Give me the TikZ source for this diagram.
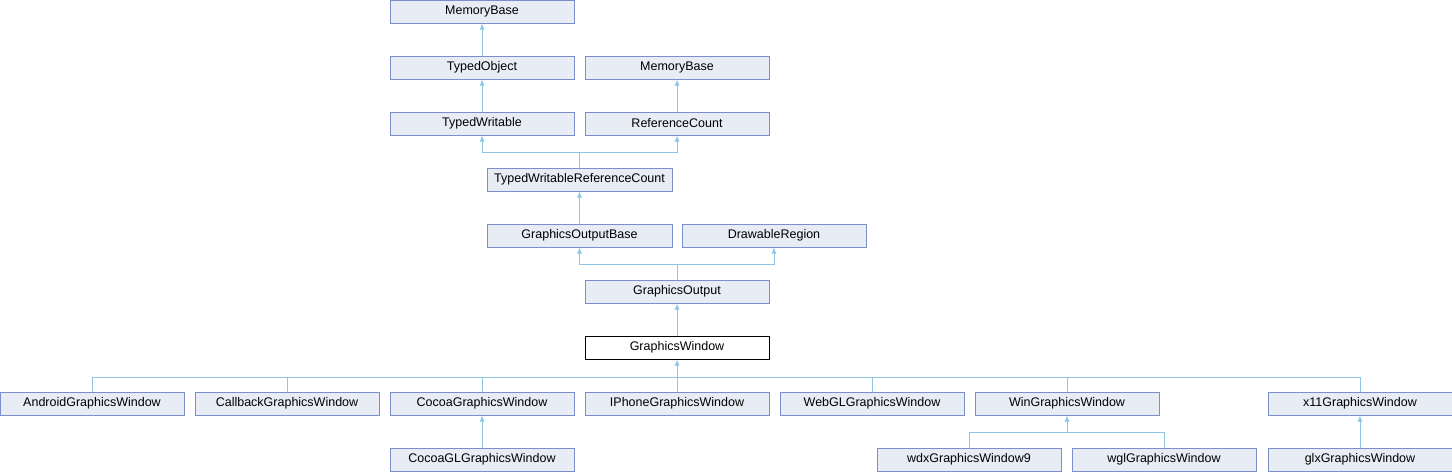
\documentclass[tikz,border=0pt]{standalone}
\usepackage{fontspec}
\setmainfont{Liberation Sans}
\usetikzlibrary{arrows.meta}
\definecolor{boxfill}{HTML}{E8ECF4}
\definecolor{boxline}{HTML}{7B90CB}
\definecolor{edgecol}{HTML}{8FC6E6}
\tikzset{
  cls/.style={draw=boxline, fill=boxfill, line width=1pt, minimum width=184pt, minimum height=23pt, inner sep=0pt, font=\fontsize{12.5pt}{14pt}\selectfont},
  clsw/.style={cls, minimum width=185pt},
  focus/.style={cls, draw=black, fill=white},
  link/.style={draw=edgecol, line width=1pt},
  edge/.style={link, -{Latex[length=6pt,width=5pt]}}
}
\begin{document}
\begin{tikzpicture}[x=1pt,y=-1pt]
\useasboundingbox (0,0) rectangle (1452,472);
% row 1
\node[cls] (mb1) at (482,11.5) {MemoryBase};
% row 2
\node[cls] (tobj) at (482,67.5) {TypedObject};
\node[cls] (mb2) at (677,67.5) {MemoryBase};
% row 3
\node[cls] (tw) at (482,123.5) {TypedWritable};
\node[cls] (rc) at (677,123.5) {ReferenceCount};
% row 4
\node[clsw] (twrc) at (579.5,179.5) {TypedWritableReferenceCount};
% row 5
\node[clsw] (gob) at (579.5,235.5) {GraphicsOutputBase};
\node[cls] (dr) at (774,235.5) {DrawableRegion};
% row 6
\node[cls] (go) at (677,291.5) {GraphicsOutput};
% row 7
\node[focus] (gw) at (677,347.5) {GraphicsWindow};
% row 8
\node[cls] (android) at (92,403.5) {AndroidGraphicsWindow};
\node[cls] (callback) at (287,403.5) {CallbackGraphicsWindow};
\node[cls] (cocoa) at (482,403.5) {CocoaGraphicsWindow};
\node[cls] (iphone) at (677,403.5) {IPhoneGraphicsWindow};
\node[cls] (webgl) at (872,403.5) {WebGLGraphicsWindow};
\node[cls] (win) at (1067,403.5) {WinGraphicsWindow};
\node[cls] (xelf) at (1360,403.5) {x11GraphicsWindow};
% row 9
\node[cls] (cocoagl) at (482,459.5) {CocoaGLGraphicsWindow};
\node[cls] (wdx) at (969,459.5) {wdxGraphicsWindow9};
\node[cls] (wgl) at (1164,459.5) {wglGraphicsWindow};
\node[cls] (glx) at (1360,459.5) {glxGraphicsWindow};
% junctions
\coordinate (j1) at (579.5,152);
\coordinate (j2) at (677,264);
\coordinate (j3) at (677,377);
\coordinate (j4) at (1067,432);
% edges
\draw[edge] (tobj.north) -- (mb1.south);
\draw[edge] (tw.north) -- (tobj.south);
\draw[edge] (rc.north) -- (mb2.south);
\draw[link] (twrc.north) -- (j1);
\draw[edge] (j1) -| (tw.south);
\draw[edge] (j1) -| (rc.south);
\draw[edge] (gob.north) -- (twrc.south);
\draw[link] (go.north) -- (j2);
\draw[edge] (j2) -| (gob.south);
\draw[edge] (j2) -| (dr.south);
\draw[edge] (gw.north) -- (go.south);
\draw[link] (android.north) |- (j3);
\draw[link] (callback.north) |- (j3);
\draw[link] (cocoa.north) |- (j3);
\draw[link] (iphone.north) -- (j3);
\draw[link] (webgl.north) |- (j3);
\draw[link] (win.north) |- (j3);
\draw[link] (xelf.north) |- (j3);
\draw[edge] (j3) -- (gw.south);
\draw[edge] (cocoagl.north) -- (cocoa.south);
\draw[link] (wdx.north) |- (j4);
\draw[link] (wgl.north) |- (j4);
\draw[edge] (j4) -- (win.south);
\draw[edge] (glx.north) -- (xelf.south);
\end{tikzpicture}
\end{document}
